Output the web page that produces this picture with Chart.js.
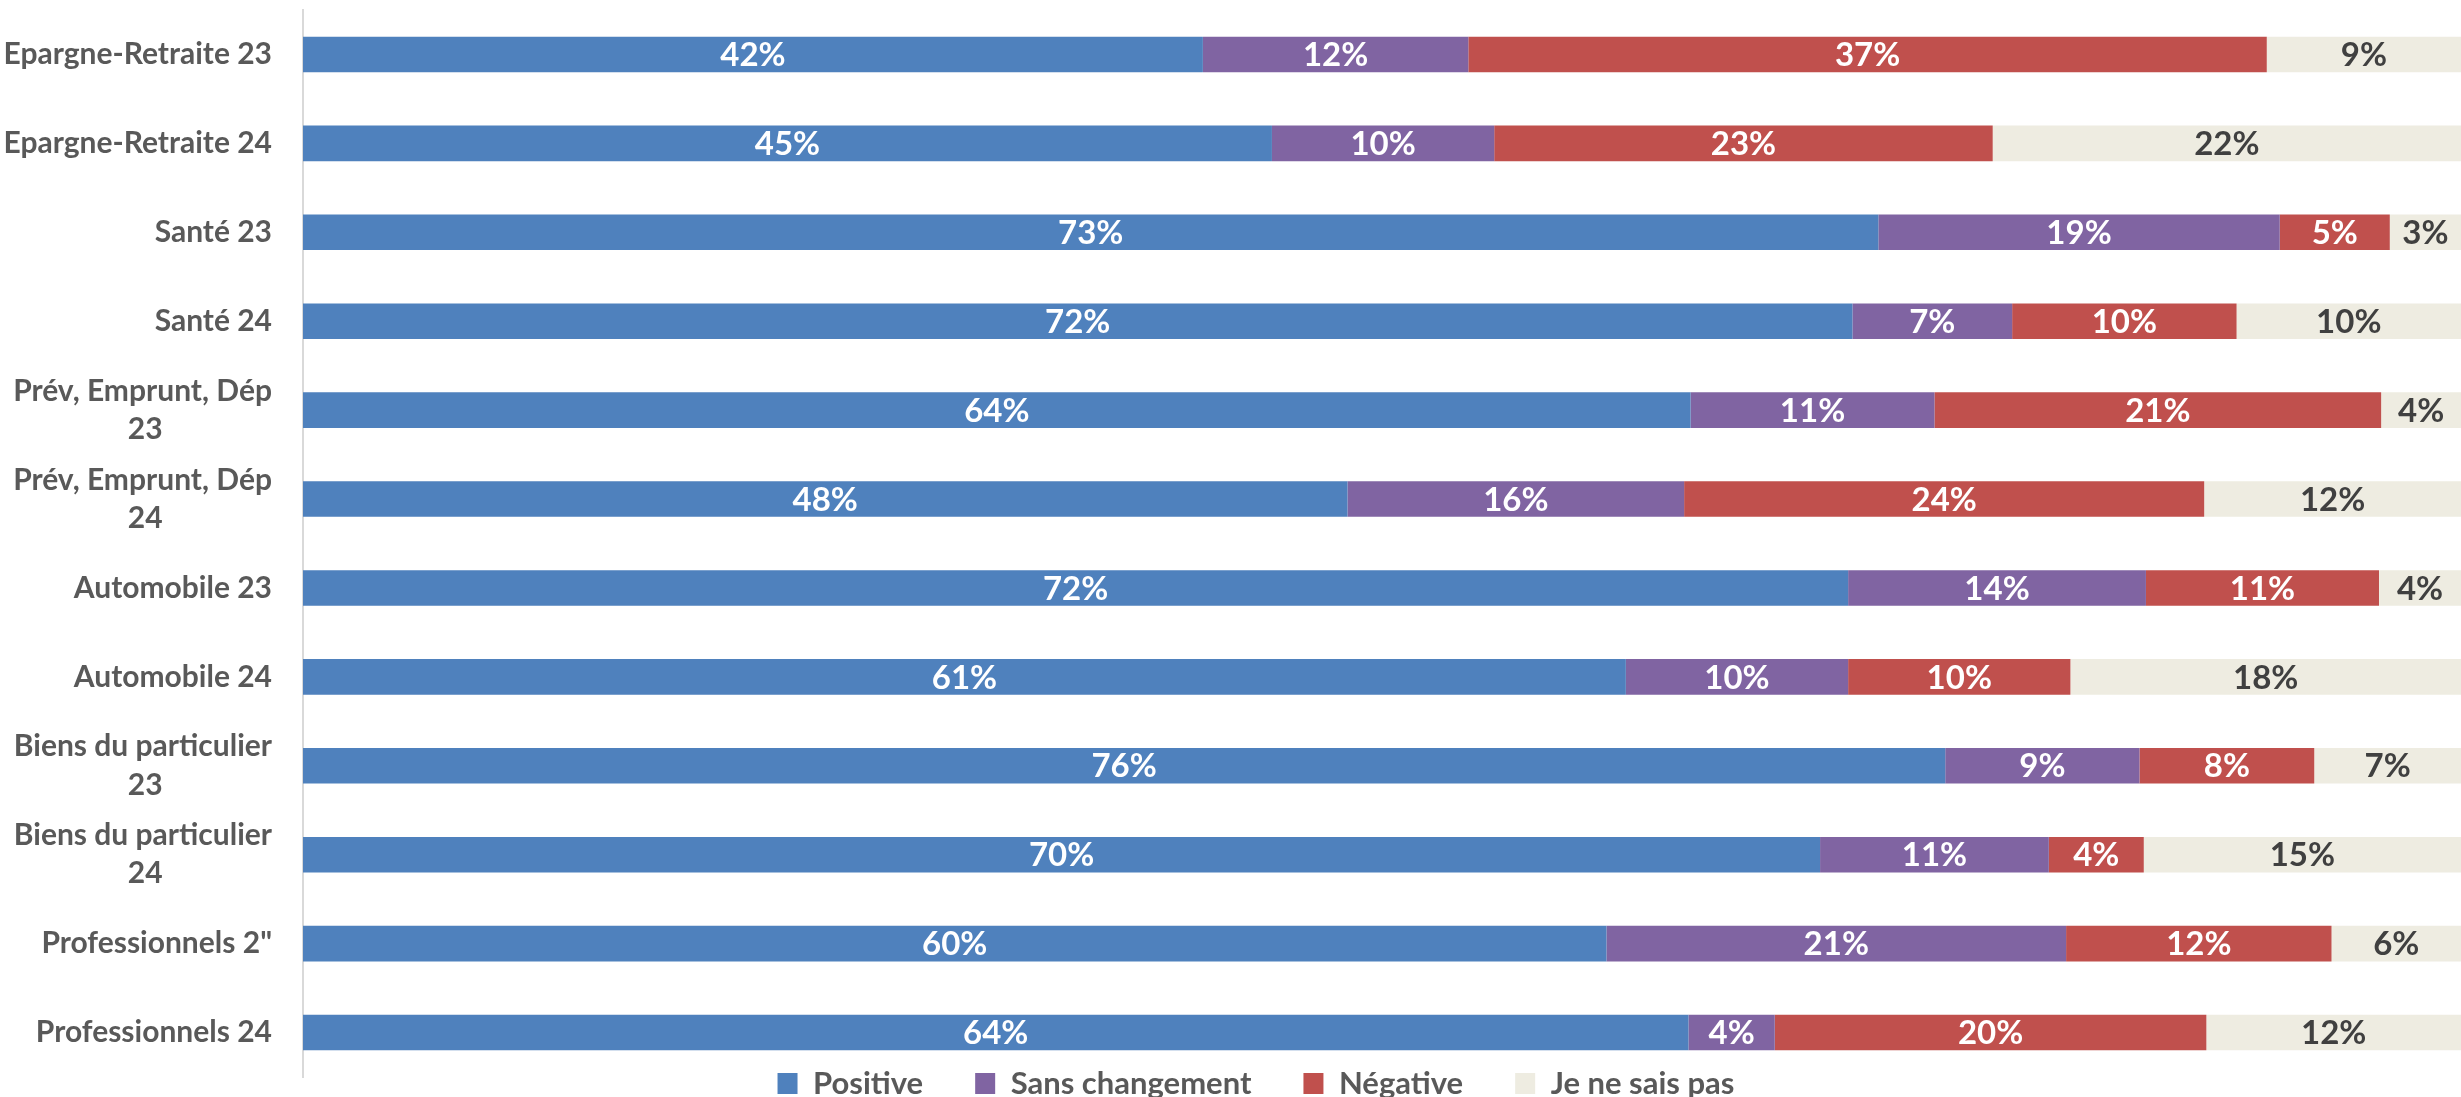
<!DOCTYPE html>
<html>
<head>
<meta charset="utf-8">
<script src="https://cdn.jsdelivr.net/npm/chart.js@4/dist/chart.umd.min.js"></script>
<style>
  html, body { margin: 0; padding: 0; background: #fff; }
  #wrap { width: 2461px; height: 1097px; }
</style>
</head>
<body>
<div id="wrap"><canvas id="chart"></canvas></div>
<script>
// categories (each entry = lines of the tick label)
const categories = [
  ['Epargne-Retraite 23'],
  ['Epargne-Retraite 24'],
  ['Santé 23'],
  ['Santé 24'],
  ['Prév, Emprunt, Dép', '23'],
  ['Prév, Emprunt, Dép', '24'],
  ['Automobile 23'],
  ['Automobile 24'],
  ['Biens du particulier', '23'],
  ['Biens du particulier', '24'],
  ['Professionnels 2"'],
  ['Professionnels 24'],
];

const positive       = [41.7, 44.9, 73.0, 71.8, 64.3, 48.4, 71.6, 61.3, 76.1, 70.3, 60.4, 64.2];
const sansChangement = [12.3, 10.3, 18.6,  7.4, 11.3, 15.6, 13.8, 10.3,  9.0, 10.6, 21.3,  4.0];
const negative       = [37.0, 23.1,  5.1, 10.4, 20.7, 24.1, 10.8, 10.3,  8.1,  4.4, 12.3, 20.0];
const nsp            = [ 9.0, 21.7,  3.3, 10.4,  3.7, 11.9,  3.8, 18.1,  6.8, 14.7,  6.0, 11.8];

const COLORS = {
  positive: '#4F81BD',
  sans: '#8064A2',
  negative: '#C0504D',
  nsp: '#EEECE1',
  text: '#595959',
  labelDark: '#404040',
};

const TICK_FONT = { family: 'Lato', size: 30, weight: 'bold', lineHeight: 1.27 };
const LEGEND_PAD = 52;

// centre the 2nd line of a 2-line label under the 1st (labels are right-aligned)
const measureCtx = document.createElement('canvas').getContext('2d');
measureCtx.font = `${TICK_FONT.weight} ${TICK_FONT.size}px ${TICK_FONT.family}`;
function tickLines(lines) {
  if (lines.length < 2) return lines[0];
  const w1 = measureCtx.measureText(lines[0]).width;
  const w2 = measureCtx.measureText(lines[1]).width;
  const sp = measureCtx.measureText('\u00A0').width;
  const n = Math.max(0, Math.round((w1 - w2) / 2 / sp));
  return [lines[0], lines[1] + '\u00A0'.repeat(n)];
}

// value labels centred in each segment
const segmentLabels = {
  id: 'segmentLabels',
  afterDatasetsDraw(chart) {
    const { ctx } = chart;
    ctx.save();
    ctx.font = 'bold 33px Lato';
    ctx.textAlign = 'center';
    ctx.textBaseline = 'middle';
    chart.data.datasets.forEach((ds, i) => {
      const meta = chart.getDatasetMeta(i);
      if (meta.hidden) return;
      meta.data.forEach((bar, j) => {
        const { x, base, y } = bar.getProps(['x', 'base', 'y'], true);
        ctx.fillStyle = ds.labelColor;
        ctx.fillText(Math.round(ds.data[j]) + '%', (x + base) / 2, y + 1);
      });
    });
    ctx.restore();
  },
};

// legend tucked just under the last bar
const legendPlacement = {
  id: 'legendPlacement',
  afterLayout(chart) {
    const lg = chart.legend;
    lg.left = 0;
    lg.right = 2512;
    lg.width = 2512;
    lg.top = chart.chartArea.bottom - LEGEND_PAD - 9;
  },
};

new Chart(document.getElementById('chart'), {
  type: 'bar',
  data: {
    labels: categories,
    datasets: [
      { label: 'Positive', data: positive, backgroundColor: COLORS.positive, labelColor: '#fff' },
      { label: 'Sans changement', data: sansChangement, backgroundColor: COLORS.sans, labelColor: '#fff' },
      { label: 'Négative', data: negative, backgroundColor: COLORS.negative, labelColor: '#fff' },
      { label: 'Je ne sais pas', data: nsp, backgroundColor: COLORS.nsp, labelColor: COLORS.labelDark },
    ],
  },
  options: {
    indexAxis: 'y',
    responsive: true,
    maintainAspectRatio: false,
    animation: false,
    layout: { padding: { top: 10, bottom: 0, left: 0, right: 0 } },
    datasets: { bar: { barPercentage: 0.5, categoryPercentage: 0.8, borderWidth: 0 } },
    plugins: {
      tooltip: { enabled: false },
      legend: {
        position: 'bottom',
        maxHeight: 20,
        labels: {
          color: COLORS.text,
          font: { family: 'Lato', size: 31, weight: 'bold' },
          boxWidth: 20,
          boxHeight: 21,
          padding: LEGEND_PAD,
        },
      },
    },
    scales: {
      x: { stacked: true, display: false, min: 0, max: 100 },
      y: {
        stacked: true,
        grid: { display: false, drawTicks: false },
        border: { display: true, color: '#D9D9D9', width: 2 },
        afterFit: (scale) => {
          scale.width = 303;
          scale.paddingTop = 0;
          scale.paddingBottom = 0;
        },
        ticks: {
          color: COLORS.text,
          font: TICK_FONT,
          padding: 31,
          callback: (v, i) => tickLines(categories[i]),
        },
      },
    },
  },
  plugins: [segmentLabels, legendPlacement],
});
</script>
</body>
</html>
